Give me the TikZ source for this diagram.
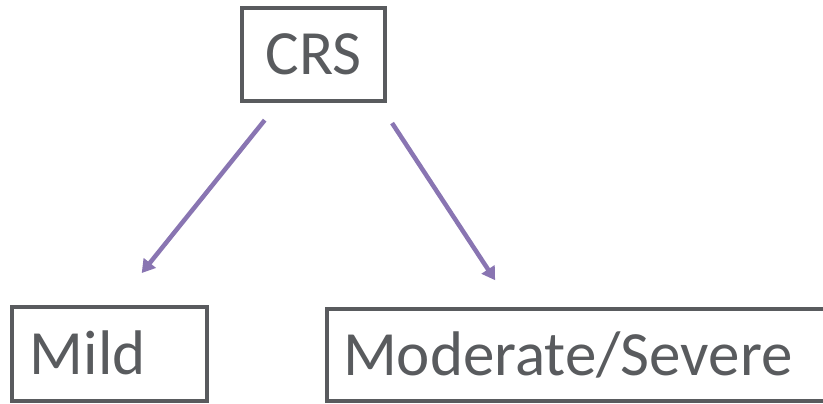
\documentclass[tikz,border=0pt]{standalone}
\usepackage{fontspec}
\setmainfont{Carlito}
\usetikzlibrary{arrows.meta}
\definecolor{boxgray}{RGB}{89,91,94}
\definecolor{arrowpurple}{RGB}{137,117,178}
\begin{document}
\begin{tikzpicture}[x=1pt,y=-1pt,
	level/.style={draw=boxgray, line width=4pt, text=boxgray, font=\fontsize{63}{70}\selectfont, text height=40pt, text depth=0pt},
	split/.style={draw=arrowpurple, line width=4.5pt, -{Triangle[width=15pt,length=13pt]}}]
	\clip (0,0) rectangle (823,404);
	\node [level, minimum width=143, minimum height=93] (crs) at (313.5,54.5) {CRS};
	\node [level, anchor=north west, minimum height=94, text width=159pt, inner xsep=18pt, align=left] (mild) at (10,305) {Mild};
	\node [level, anchor=north west, minimum height=92, text width=540pt, inner xsep=16pt, align=left] (mod) at (325,307) {Moderate/Severe};
	
	\draw [split, shorten <=22pt, shorten >=41pt] ([xshift=-35pt]crs.south) -- ([xshift=6.5pt]mild.north);
	\draw [split, shorten <=24pt, shorten >=32pt] ([xshift=65.4pt]crs.south) -- ([xshift=187.7pt]mod.north west);
\end{tikzpicture}
\end{document}
